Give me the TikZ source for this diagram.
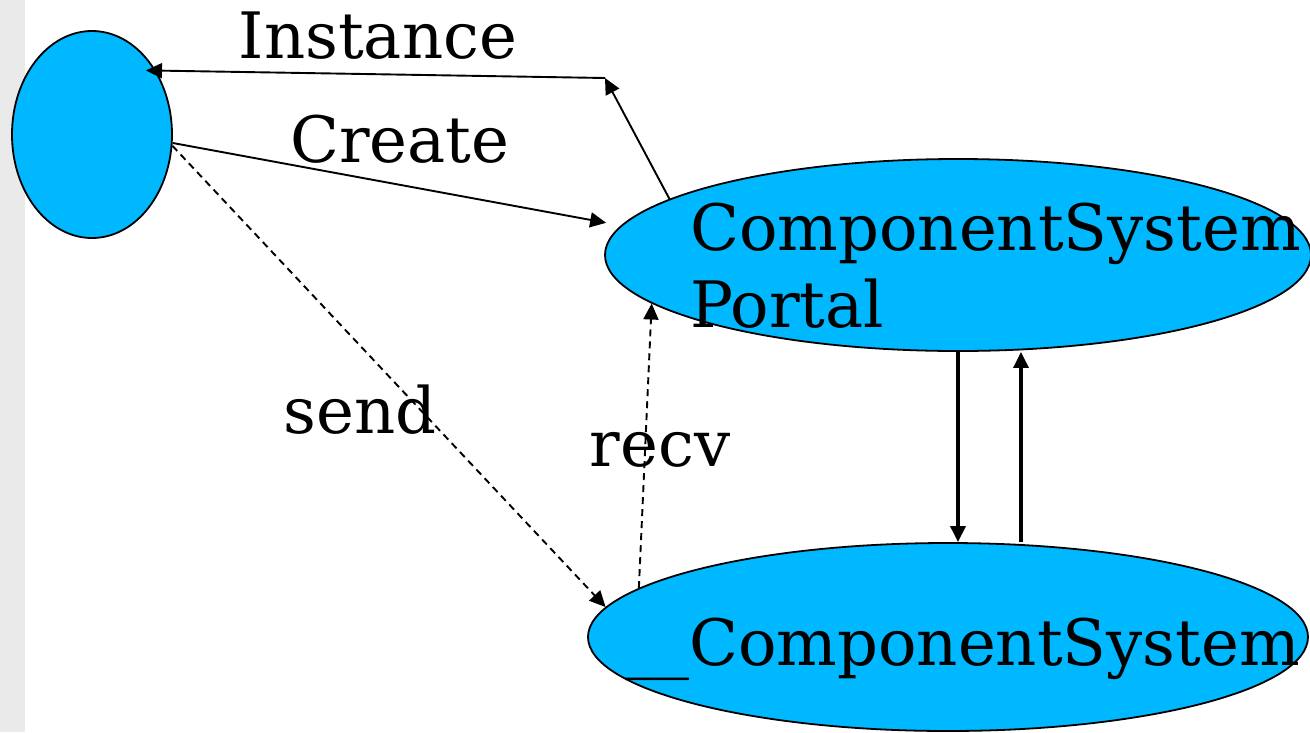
\documentclass[tikz,border=0pt]{standalone}
\usepackage{fontspec}
\setmainfont{DejaVu Serif}
\usetikzlibrary{positioning}
\usetikzlibrary{shapes.geometric,arrows.meta}
\definecolor{blobblue}{RGB}{0,184,255}
\definecolor{stripgray}{RGB}{234,234,234}

\tikzset{
  blob/.style={ellipse, draw=black, line width=1.8pt, fill=blobblue, inner sep=0pt},
  arr/.style={line width=1.9pt, -{Triangle[length=16pt,width=15pt]}},
  dasharr/.style={arr, dash pattern=on 7pt off 5pt},
  bigarr/.style={line width=3.2pt, -{Triangle[length=16pt,width=15pt]}},
  lbl/.style={font=\fontsize{64}{78}\selectfont, inner sep=0pt}
}

\begin{document}
\begin{tikzpicture}[x=1pt,y=-1pt]
     \useasboundingbox (0,0) rectangle (1310,732);
     \fill [stripgray] (0,0) rectangle (25,732);

     \node [blob, minimum width=160, minimum height=207] (client) at (92,134.5) {};
     \node [blob, minimum width=706, minimum height=192] (portal) at (958,255) {};
     \node [blob, minimum width=720, minimum height=188] (comp) at (948,637) {};

     \node [lbl, anchor=base west] (portaltop) at (690,250) {ComponentSystem};
     \node [lbl, anchor=base west] (portalbot) at (690,327) {Portal};
     \node [lbl, anchor=base west] (comptext) at (625,665) {\_\_ComponentSystem};

     \coordinate (bend) at (605,78);
     \draw [arr] (portal.169) -- (bend);
     \draw [arr, shorten >=-10pt] (bend) -- (client.45);
     \draw [arr, shorten >=15pt] (client.-6) -- (portal.175);
     \draw [dasharr] (client.-8) -- (comp.175.5);
     \draw [dasharr] (comp.171.4) -- (portal.189.5);
     \draw [bigarr] (portal.south) -- (portal.south |- comp.north);
     \draw [bigarr] ([xshift=73pt]comp.north) -- ([xshift=63pt]portal.south);

     \node [lbl, anchor=base] (instlbl) at (378,58) {Instance};
     \node [lbl, anchor=base] (createlbl) at (400,162) {Create};
     \node [lbl, anchor=base] (sendlbl) at (360,433) {send};
     \node [lbl, anchor=base] (recvlbl) at (660,466) {recv};
\end{tikzpicture}
\end{document}
